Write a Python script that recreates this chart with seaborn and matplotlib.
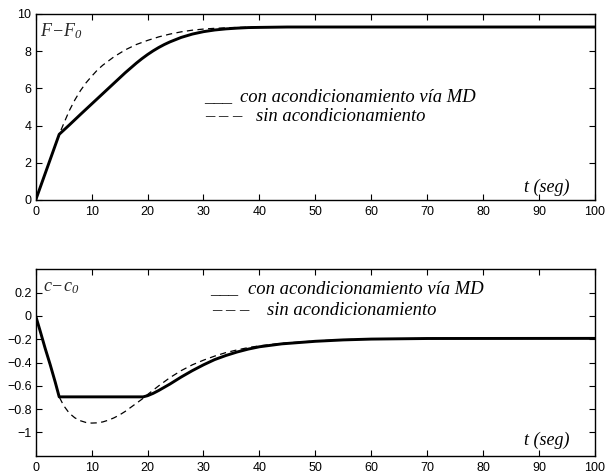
import matplotlib
matplotlib.use("Agg")
import matplotlib.pyplot as plt
import seaborn as sns
import pandas as pd

# ---- data ----
t_F_con = [0, 4.2, 6, 8, 10, 12, 14, 16, 17, 18, 19, 20, 21, 22, 23, 24, 26, 28, 30, 32, 34, 36, 38, 40, 45, 50, 60, 100]
F_con = [0, 3.53, 4.03, 4.6, 5.16, 5.72, 6.28, 6.84, 7.1, 7.36, 7.6, 7.82, 8.02, 8.2, 8.36, 8.5, 8.74, 8.92, 9.05, 9.14, 9.2, 9.24, 9.27, 9.28, 9.3, 9.3, 9.3, 9.3]

t_F_sin = [0, 4.2, 5, 6, 7, 8, 9, 10, 11, 12, 14, 16, 18, 20, 22, 24, 26, 28, 30, 32, 35, 38, 42, 50, 60, 100]
F_sin = [0, 3.53, 4.1, 4.8, 5.38, 5.88, 6.3, 6.65, 6.98, 7.25, 7.7, 8.07, 8.36, 8.58, 8.77, 8.92, 9.04, 9.13, 9.19, 9.23, 9.27, 9.29, 9.3, 9.3, 9.3, 9.3]

t_c_con = [0, 0.8, 1.7, 2.6, 3.5, 4.2, 10, 15, 19.2, 20, 21, 22, 24, 26, 28, 30, 32, 34, 36, 38, 40, 44, 50, 55, 60, 70, 100]
c_con = [0, -0.13, -0.28, -0.42, -0.57, -0.695, -0.695, -0.695, -0.695, -0.685, -0.665, -0.64, -0.585, -0.525, -0.47, -0.42, -0.375, -0.34, -0.31, -0.285, -0.265, -0.24, -0.218, -0.206, -0.199, -0.194, -0.193]

t_c_sin = [0, 0.8, 1.7, 2.6, 3.5, 4.2, 5, 6, 7, 8, 9, 10, 11, 12, 13, 14, 15, 16, 17, 18, 19, 20, 22, 24, 26, 28, 30, 32, 34, 36, 38, 40, 44, 50, 55, 60, 70, 100]
c_sin = [0, -0.13, -0.28, -0.42, -0.57, -0.695, -0.77, -0.835, -0.875, -0.9, -0.915, -0.92, -0.918, -0.91, -0.895, -0.875, -0.85, -0.82, -0.785, -0.75, -0.715, -0.675, -0.6, -0.53, -0.47, -0.42, -0.38, -0.345, -0.315, -0.292, -0.272, -0.257, -0.235, -0.215, -0.204, -0.198, -0.194, -0.193]

x_ticks = [0, 10, 20, 30, 40, 50, 60, 70, 80, 90, 100]
F_ticks = [0, 2, 4, 6, 8, 10]
c_ticks = [-1, -0.8, -0.6, -0.4, -0.2, 0, 0.2]
c_ticklabels = ["\u22121", "\u22120.8", "\u22120.6", "\u22120.4", "\u22120.2", "0", "0.2"]

label_con = "con acondicionamiento v\u00eda MD"
label_sin = "sin acondicionamiento"
sample_con = "___"
sample_sin = "\u2013 \u2013 \u2013"

# ---- style ----
sns.set_style("ticks")
plt.rcParams["font.family"] = ["Liberation Sans", "DejaVu Sans"]
plt.rcParams["mathtext.fontset"] = "custom"
plt.rcParams["mathtext.it"] = "Liberation Serif:italic"
plt.rcParams["mathtext.rm"] = "Liberation Serif:italic"
plt.rcParams["axes.edgecolor"] = "black"
plt.rcParams["axes.linewidth"] = 1.0

fig = plt.figure(figsize=(6.06, 4.71), dpi=100)
W, H = 606.0, 471.0
ax1 = fig.add_axes([35.7 / W, (H - 200) / H, 559.3 / W, 186 / H])
ax2 = fig.add_axes([35.7 / W, (H - 455.7) / H, 559.3 / W, 186.4 / H])

df_F_con = pd.DataFrame({"t": t_F_con, "v": F_con})
df_F_sin = pd.DataFrame({"t": t_F_sin, "v": F_sin})
df_c_con = pd.DataFrame({"t": t_c_con, "v": c_con})
df_c_sin = pd.DataFrame({"t": t_c_sin, "v": c_sin})

for ax, dcon, dsin in [(ax1, df_F_con, df_F_sin), (ax2, df_c_con, df_c_sin)]:
    sns.lineplot(data=dsin, x="t", y="v", ax=ax, color="black", linewidth=0.9,
                 estimator=None, sort=False)
    ax.lines[-1].set_dashes([5, 3.5])
    sns.lineplot(data=dcon, x="t", y="v", ax=ax, color="black", linewidth=2.1,
                 estimator=None, sort=False)
    ax.set_xlabel("")
    ax.set_ylabel("")
    ax.set_xlim(0, 100)
    ax.set_xticks(x_ticks)
    ax.tick_params(direction="in", length=4, width=0.8, top=True, right=True,
                   labelsize=9, colors="black")
    ax.tick_params(axis="x", pad=4.5)
    ax.tick_params(axis="y", pad=3)
    for s in ax.spines.values():
        s.set_visible(True)
        s.set_color("black")

ax1.set_ylim(0, 10)
ax1.set_yticks(F_ticks)
ax2.set_ylim(-1.2, 0.4)
ax2.set_yticks(c_ticks)
ax2.set_yticklabels(c_ticklabels)

serif = dict(family=["Liberation Serif", "DejaVu Serif"], style="italic", color="black",
             ha="left", va="baseline")
LFS = 13.4

ax1.text(0.008, 0.878, r"$F{-}F_{0}$", transform=ax1.transAxes, fontsize=13, ha="left", va="baseline")
ax2.text(0.013, 0.884, r"$c{-}c_{0}$", transform=ax2.transAxes, fontsize=13, ha="left", va="baseline")

# legend-like annotations (top)
ax1.text(0.301, 0.527, sample_con, transform=ax1.transAxes, fontsize=LFS, **serif)
ax1.text(0.366, 0.527, label_con, transform=ax1.transAxes, fontsize=LFS, **serif)
ax1.text(0.303, 0.425, sample_sin, transform=ax1.transAxes, fontsize=LFS, **serif)
ax1.text(0.394, 0.425, label_sin, transform=ax1.transAxes, fontsize=LFS, **serif)
# legend-like annotations (bottom)
ax2.text(0.312, 0.868, sample_con, transform=ax2.transAxes, fontsize=LFS, **serif)
ax2.text(0.380, 0.868, label_con, transform=ax2.transAxes, fontsize=LFS, **serif)
ax2.text(0.315, 0.755, sample_sin, transform=ax2.transAxes, fontsize=LFS, **serif)
ax2.text(0.413, 0.755, label_sin, transform=ax2.transAxes, fontsize=LFS, **serif)

ax1.text(0.873, 0.043, "t (seg)", transform=ax1.transAxes, fontsize=13, **serif)
ax2.text(0.873, 0.057, "t (seg)", transform=ax2.transAxes, fontsize=13, **serif)

fig.savefig("out.png", dpi=100)
